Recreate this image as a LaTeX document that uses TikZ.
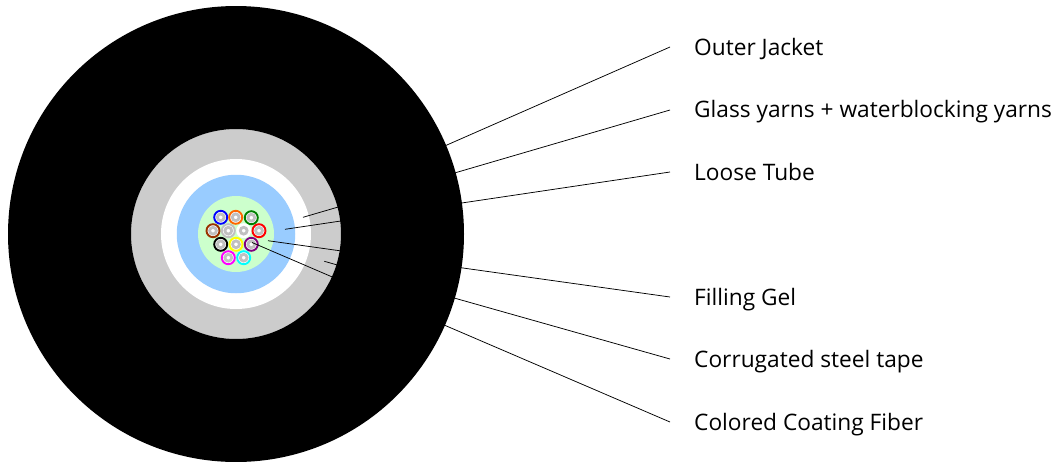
\documentclass[tikz,border=0pt]{standalone}
\usepackage{fontspec}
\setmainfont{Open Sans}
\definecolor{ringgray}{HTML}{CCCCCC}
\definecolor{gelblue}{HTML}{99CCFF}
\definecolor{gelgreen}{HTML}{CCFFCC}
\definecolor{coregray}{HTML}{C0C0C0}
\definecolor{fblue}{HTML}{0000FF}
\definecolor{forange}{HTML}{FF6600}
\definecolor{fgreen}{HTML}{008000}
\definecolor{fbrown}{HTML}{993300}
\definecolor{fred}{HTML}{FF0000}
\definecolor{fblack}{HTML}{000000}
\definecolor{fyellow}{HTML}{FFFF00}
\definecolor{fpurple}{HTML}{800080}
\definecolor{fmagenta}{HTML}{FF00FF}
\definecolor{fcyan}{HTML}{00FFFF}
\newcommand{\fiber}[4]{%
  \node[fiberring,draw=#4] (#1) at (#2,#3) {};
  \node[fibercore] (#1c) at (#2,#3) {};
}
\tikzset{
  x=1pt,y=-1pt,
  fiberring/.style={circle,fill=white,line width=1.9pt,minimum size=13pt,inner sep=0pt},
  fibercore/.style={circle,draw=coregray,fill=white,line width=2.8pt,minimum size=6.8pt,inner sep=0pt},
  leader/.style={draw=black,line width=0.75pt},
  lab/.style={anchor=base west,inner sep=0pt,font=\fontsize{22.7pt}{26pt}\selectfont},
  disc/.style={circle,inner sep=0pt,draw=none},
}
\begin{document}
\begin{tikzpicture}
\useasboundingbox (0,0) rectangle (1058,461);
\fill[white] (0,0) rectangle (1058,461);
\node[disc,fill=ringgray,minimum size=210pt] (gray) at (236,234) {};
\node[disc,fill=white,minimum size=150pt] (white) at (236,234) {};
\node[disc,fill=gelblue,minimum size=118.5pt] (blue) at (236,234) {};
\node[disc,fill=gelgreen,minimum size=76pt] (green) at (236,234) {};
\fiber{f1}{220.7}{217.3}{fblue}
\fiber{f2}{235.7}{217.3}{forange}
\fiber{f3}{251.3}{217.7}{fgreen}
\fiber{f4}{213}{230.7}{fbrown}
\fiber{f5}{228.3}{230.7}{coregray}
\fiber{f6}{243.7}{230.7}{white}
\fiber{f7}{259}{230.7}{fred}
\fiber{f8}{220.7}{244.3}{fblack}
\fiber{f9}{236}{244.3}{fyellow}
\fiber{f10}{251.3}{244.3}{fpurple}
\fiber{f11}{228.3}{257.7}{fmagenta}
\fiber{f12}{243.7}{257.7}{fcyan}
\node[lab] (t1) at (694,55) {Outer Jacket};
\node[lab] (t2) at (694,117.5) {Glass yarns + waterblocking yarns};
\node[lab] (t3) at (694,180) {Loose Tube};
\node[lab] (t4) at (694,305) {Filling Gel};
\node[lab] (t5) at (694,367.5) {Corrugated steel tape};
\node[lab] (t6) at (694,430) {Colored Coating Fiber};
\coordinate (e1) at (670,47);
\coordinate (e2) at (670,110);
\coordinate (e3) at (670,172);
\coordinate (e4) at (670,297);
\coordinate (e5) at (670,359);
\coordinate (e6) at (670,422);
\coordinate (s1) at (400,165.6);
\coordinate (s2) at (303,217.3);
\coordinate (s3) at (285,229.3);
\coordinate (s4) at (268,240.7);
\coordinate (s5) at (324.3,261.3);
\coordinate (s6) at (252,242.5);
\foreach \i in {1,...,6} {\path[leader] (s\i) -- (e\i);}
\fill[black,even odd rule] (236,234) circle[radius=228] (236,234) circle[radius=105];
\end{tikzpicture}
\end{document}
